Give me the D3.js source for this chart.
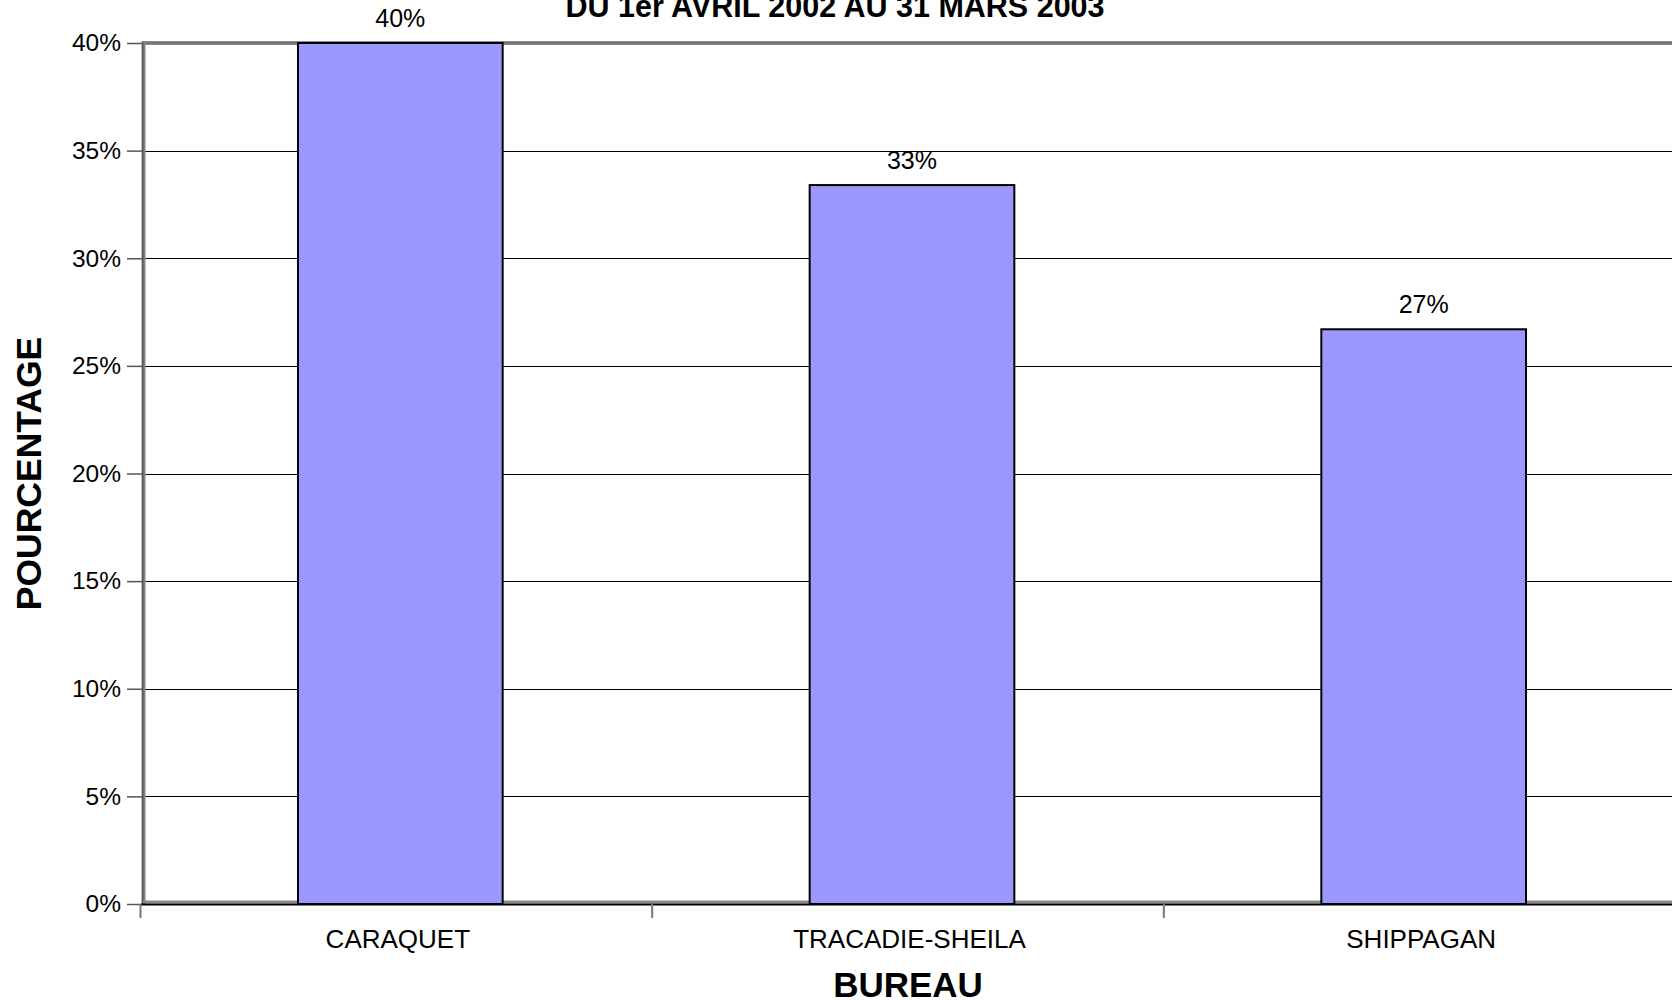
<!DOCTYPE html>
<html>
<head>
<meta charset="utf-8">
<script src="https://cdn.jsdelivr.net/npm/d3@7"></script>
<style>
  html, body { margin: 0; padding: 0; background: #fff; }
  svg { display: block; font-family: "Liberation Sans", Arial, sans-serif; }
</style>
</head>
<body>
<svg id="chart" width="1672" height="1000"></svg>
<script>
// Share of files per office, 1 April 2002 – 31 March 2003
const bureaux = ["CARAQUET", "TRACADIE-SHEILA", "SHIPPAGAN"];
const pourcentages = [0.400, 0.334, 0.267];
const yTicks = [0, 0.05, 0.10, 0.15, 0.20, 0.25, 0.30, 0.35, 0.40];

const svg = d3.select("#chart");
const W = 1672, H = 1000;

// Plot area (extends slightly past the right edge of the page)
const plot = { left: 142, right: 1677, top: 43, bottom: 904 };

const x = d3.scaleBand()
  .domain(bureaux)
  .range([plot.left, plot.right])
  .padding(0);

const y = d3.scaleLinear()
  .domain([0, 0.40])
  .range([plot.bottom, plot.top]);

const pct = d3.format(".0%");
const barW = x.bandwidth() * 0.4;
const barShift = 2.5;
const barCenter = d => x(d) + x.bandwidth() / 2 + barShift;

// Title (second line of the heading)
svg.append("text")
  .attr("x", 835)
  .attr("y", 17)
  .attr("text-anchor", "middle")
  .attr("font-size", 30.5)
  .attr("font-weight", "bold")
  .attr("fill", "#000")
  .text("DU 1er AVRIL 2002 AU 31 MARS 2003");

// Horizontal gridlines
svg.append("g")
  .selectAll("line")
  .data(yTicks.filter(d => d > 0 && d < 0.40))
  .join("line")
  .attr("x1", plot.left)
  .attr("x2", W)
  .attr("y1", d => Math.round(y(d)) + 0.5)
  .attr("y2", d => Math.round(y(d)) + 0.5)
  .attr("stroke", "#000")
  .attr("stroke-width", 1);

// Plot frame: grey top and left edges
svg.append("line")
  .attr("x1", plot.left).attr("x2", W)
  .attr("y1", plot.top).attr("y2", plot.top)
  .attr("stroke", "#8a8a8a").attr("stroke-width", 4);
svg.append("line")
  .attr("x1", plot.left).attr("x2", W)
  .attr("y1", plot.top).attr("y2", plot.top)
  .attr("stroke", "#6e6e6e").attr("stroke-width", 1.5);
svg.append("line")
  .attr("x1", plot.left + 1.5).attr("x2", plot.left + 1.5)
  .attr("y1", plot.top - 2).attr("y2", plot.bottom)
  .attr("stroke", "#8a8a8a").attr("stroke-width", 4);
svg.append("line")
  .attr("x1", plot.left + 1.5).attr("x2", plot.left + 1.5)
  .attr("y1", plot.top - 2).attr("y2", plot.bottom)
  .attr("stroke", "#6e6e6e").attr("stroke-width", 1.5);
// grey strip along the floor
svg.append("line")
  .attr("x1", plot.left).attr("x2", W)
  .attr("y1", plot.bottom - 2).attr("y2", plot.bottom - 2)
  .attr("stroke", "#8a8a8a").attr("stroke-width", 3);

const rows = bureaux.map((b, i) => ({ b, v: pourcentages[i] }));

// Bars
svg.append("g")
  .selectAll("rect")
  .data(rows)
  .join("rect")
  .attr("x", d => barCenter(d.b) - barW / 2)
  .attr("y", d => y(d.v))
  .attr("width", barW)
  .attr("height", d => y(0) - y(d.v))
  .attr("fill", "#9999ff")
  .attr("stroke", "#000")
  .attr("stroke-width", 2);

// Value labels
svg.append("g")
  .selectAll("text")
  .data(rows)
  .join("text")
  .attr("x", d => barCenter(d.b))
  .attr("y", d => y(d.v) - 16)
  .attr("text-anchor", "middle")
  .attr("font-size", 25)
  .attr("fill", "#000")
  .text(d => pct(d.v));

// Y axis
const yAxis = svg.append("g")
  .attr("transform", `translate(${plot.left},0)`)
  .call(d3.axisLeft(y).tickValues(yTicks).tickFormat(pct).tickSize(15).tickPadding(6));
yAxis.select(".domain").attr("stroke", "#555").attr("stroke-width", 1);
yAxis.selectAll(".tick line").attr("stroke", "#555").attr("stroke-width", 1.5);
yAxis.selectAll(".tick text")
  .attr("font-size", 24.5)
  .attr("font-family", "Liberation Sans, Arial, sans-serif")
  .attr("fill", "#000");

// X axis
const xAxis = svg.append("g")
  .attr("transform", `translate(0,${plot.bottom})`)
  .call(d3.axisBottom(x).tickSize(0).tickPadding(26));
xAxis.select(".domain").remove();
xAxis.selectAll(".tick text")
  .attr("font-size", 26)
  .attr("font-family", "Liberation Sans, Arial, sans-serif")
  .attr("fill", "#000");
// black floor line
svg.append("line")
  .attr("x1", plot.left - 1).attr("x2", W)
  .attr("y1", plot.bottom + 0.5).attr("y2", plot.bottom + 0.5)
  .attr("stroke", "#000").attr("stroke-width", 2);
// category separators
svg.append("g")
  .selectAll("line")
  .data(bureaux)
  .join("line")
  .attr("x1", d => x(d) - 1.5)
  .attr("x2", d => x(d) - 1.5)
  .attr("y1", plot.bottom)
  .attr("y2", plot.bottom + 14)
  .attr("stroke", "#777")
  .attr("stroke-width", 2);

// Axis titles
svg.append("text")
  .attr("x", 908)
  .attr("y", 997)
  .attr("text-anchor", "middle")
  .attr("font-size", 35)
  .attr("font-weight", "bold")
  .text("BUREAU");

svg.append("text")
  .attr("transform", `translate(41,${(plot.top + plot.bottom) / 2}) rotate(-90)`)
  .attr("text-anchor", "middle")
  .attr("font-size", 35.5)
  .attr("font-weight", "bold")
  .text("POURCENTAGE");
</script>
</body>
</html>
